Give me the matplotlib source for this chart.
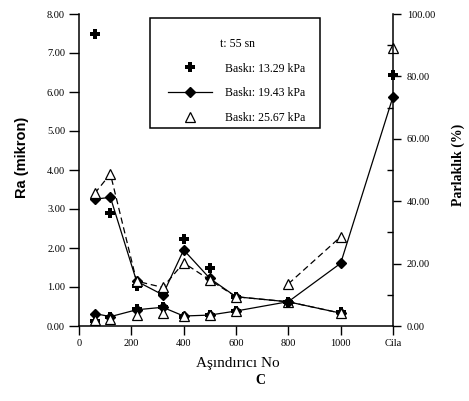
import numpy as np
import matplotlib
matplotlib.use('Agg')
import matplotlib.pyplot as plt
from matplotlib.ticker import MultipleLocator, FormatStrFormatter
from matplotlib.lines import Line2D
from matplotlib.patches import Rectangle

SERIF = 'Liberation Serif'
SANS = 'Liberation Sans'

# abrasive numbers, "Cila" (polish) is drawn at 1200
abrasive_no = [60, 120, 220, 320, 400, 500, 600, 800, 1000]
cila_x = 1200
x_ticks = [0, 200, 400, 600, 800, 1000, 1200]
x_tick_labels = ['0', '200', '400', '600', '800', '1000', 'Cila']

# Ra (mikron), left axis
ra_1329 = [7.50, 2.90, 1.03, 0.85, 2.22, 1.50, 0.75, 0.62, 0.35]
ra_1943 = [3.25, 3.30, 1.15, 0.80, 1.95, 1.22, 0.75, 0.62, 0.33]
ra_2567 = [3.40, 3.90, 1.15, 0.99, 1.62, 1.18, 0.75, 0.62, 0.33]

# Parlaklik (%), right axis; last value is Cila
gloss_1329 = [1.6, 3.0, 5.5, 6.2, 3.0, 3.5, 4.8, 7.8, np.nan, 80.4]
gloss_1943 = [4.0, 3.0, 5.2, 6.0, 3.2, 3.5, 4.8, 7.8, 20.1, 73.5]
gloss_2567 = [2.0, 2.4, 3.5, 4.2, 3.2, 3.5, 4.8, 13.5, 28.6, 89.0]

labels = ['Baskı: 13.29 kPa', 'Baskı: 19.43 kPa', 'Baskı: 25.67 kPa']

W, H = 469, 401
fig = plt.figure(figsize=(W / 100, H / 100), dpi=100)
ax = fig.add_axes([79 / W, 1 - 326 / H, (393 - 79) / W, (326 - 14) / H])
ax2 = ax.twinx()

plus_kw = dict(marker='P', markersize=7.5, color='black', markeredgewidth=0, clip_on=False)
diam_kw = dict(marker='D', markersize=5.5, color='black', linewidth=0.9, clip_on=False)
tri_kw = dict(marker='^', markersize=6.5, color='black', markerfacecolor='white',
              markeredgewidth=0.9, linewidth=0.9, linestyle=(0, (5, 3)), clip_on=False)

# Ra curves
ax.plot(abrasive_no, ra_1329, linestyle='none', **plus_kw)
ax.plot(abrasive_no, ra_1943, linestyle='-', **diam_kw)
ax.plot(abrasive_no, ra_2567, **tri_kw)

# gloss curves
xg = abrasive_no + [cila_x]
ax2.plot(xg, gloss_1329, linestyle='none', **plus_kw)
ax2.plot(xg, gloss_1943, linestyle='-', **diam_kw)
# only the 800-1000 piece of the dashed gloss line shows in the original
ax2.plot(xg[7:9], gloss_2567[7:9], linestyle=(0, (5, 3)), color='black', linewidth=0.9)
ax2.plot(xg, gloss_2567, **dict(tri_kw, linestyle='none'))

# axes
ax.set_xlim(0, 1200)
ax.set_ylim(0, 8)
ax2.set_ylim(0, 100)
ax.set_xticks(x_ticks)
ax.set_xticklabels(x_tick_labels)
ax.yaxis.set_major_locator(MultipleLocator(1))
ax.yaxis.set_major_formatter(FormatStrFormatter('%.2f'))
ax2.yaxis.set_major_locator(MultipleLocator(20))
ax2.yaxis.set_minor_locator(MultipleLocator(10))
ax2.yaxis.set_major_formatter(FormatStrFormatter('%.2f'))

for s in ['top', 'right']:
    ax.spines[s].set_visible(False)
for s in ['top', 'left', 'bottom']:
    ax2.spines[s].set_visible(False)
for a in (ax, ax2):
    for s in a.spines.values():
        s.set_linewidth(1.1)

ax.tick_params(axis='y', direction='out', length=7, width=1, pad=3, labelsize=7.5)
ax.tick_params(axis='x', direction='out', length=6.5, width=1, pad=3, labelsize=7.5)
ax2.tick_params(axis='y', which='major', direction='out', length=6, width=1, pad=4, labelsize=7.5)
ax2.tick_params(axis='y', which='minor', direction='in', length=4, width=1)
for lab in ax.get_xticklabels() + ax.get_yticklabels() + ax2.get_yticklabels():
    lab.set_fontfamily(SERIF)

fig.text(22 / W, 1 - 157 / H, 'Ra (mikron)', rotation=90, ha='center', va='center',
         fontfamily=SANS, fontweight='bold', fontsize=10.5)
fig.text(458 / W, 1 - 165 / H, 'Parlaklık (%)', rotation=90, ha='center', va='center',
         fontfamily=SERIF, fontweight='bold', fontsize=10)
fig.text(238 / W, 1 - 363 / H, 'Aşındırıcı No', ha='center', va='center',
         fontfamily=SERIF, fontsize=11)
fig.text(260 / W, 1 - 380 / H, 'C', ha='center', va='center',
         fontfamily=SERIF, fontweight='bold', fontsize=10)

# legend
handles = [Line2D([], [], linestyle='none', **plus_kw),
           Line2D([], [], linestyle='-', **diam_kw),
           Line2D([], [], **dict(tri_kw, linestyle='none'))]
fig.patches.append(Rectangle((150 / W, 1 - 128 / H), (320 - 150) / W, (128 - 18) / H,
                             transform=fig.transFigure, fill=False, edgecolor='black',
                             linewidth=1.1))
leg = ax2.legend(handles, labels, title='t: 55 sn', loc='center',
                 bbox_to_anchor=(237 / W, 1 - 81 / H), bbox_transform=fig.transFigure,
                 frameon=False, borderpad=0, handlelength=3.7, handletextpad=1.1,
                 labelspacing=1.1, prop={'family': SERIF, 'size': 8.5},
                 title_fontproperties={'family': SERIF, 'size': 8.5})

fig.savefig('out.png', dpi=100)
